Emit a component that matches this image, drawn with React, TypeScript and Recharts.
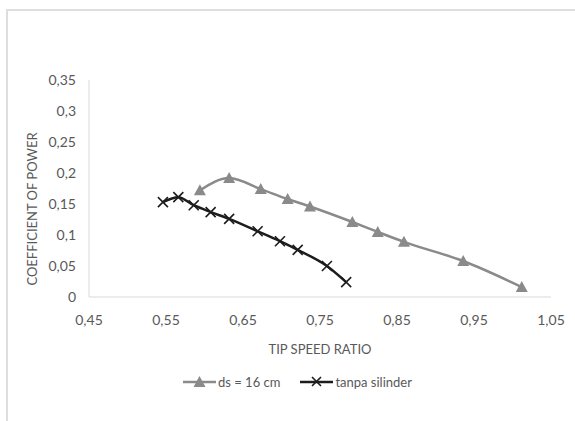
import React from 'react';
import { LineChart, Line, XAxis, YAxis } from 'recharts';

// tip speed ratio vs coefficient of power
const dsTsr = [0.594, 0.632, 0.673, 0.708, 0.737, 0.792, 0.825, 0.859, 0.936, 1.012];
const dsCp = [0.172, 0.192, 0.174, 0.158, 0.146, 0.121, 0.105, 0.089, 0.058, 0.016];
const tanpaTsr = [0.546, 0.566, 0.586, 0.608, 0.632, 0.669, 0.698, 0.721, 0.759, 0.784];
const tanpaCp = [0.153, 0.161, 0.148, 0.137, 0.126, 0.106, 0.09, 0.076, 0.05, 0.024];

const xTicks = [0.45, 0.55, 0.65, 0.75, 0.85, 0.95, 1.05];
const yTicks = [0, 0.05, 0.1, 0.15, 0.2, 0.25, 0.3, 0.35];

const FONT = 'Lato, "Noto Sans", sans-serif';
const GRAY = '#8a8a8a';
const BLACK = '#1c1c1c';

const dsData = dsTsr.map((x, i) => ({ x, y: dsCp[i] }));
const tanpaData = tanpaTsr.map((x, i) => ({ x, y: tanpaCp[i] }));

const fmt = (v: number) => String(Number(v.toFixed(2))).replace('.', ',');

const Triangle = (props: any) => {
  const { cx, cy, index } = props;
  if (cx == null || cy == null) return <g key={`t-${index}`} />;
  return <polygon key={`t-${index}`} points={`${cx},${cy - 6} ${cx - 6},${cy + 5} ${cx + 6},${cy + 5}`} fill={GRAY} />;
};

const Cross = (props: any) => {
  const { cx, cy, index } = props;
  if (cx == null || cy == null) return <g key={`c-${index}`} />;
  const s = 5;
  return (
    <path key={`c-${index}`} d={`M${cx - s},${cy - s}L${cx + s},${cy + s}M${cx - s},${cy + s}L${cx + s},${cy - s}`} stroke={BLACK} strokeWidth={1.6} />
  );
};

const App: React.FC = () => {
  return (
    <div style={{ position: 'fixed', left: 0, top: 0, width: 575, height: 421, background: '#fff', overflow: 'hidden', fontFamily: FONT }}>
      <div style={{ position: 'absolute', left: 6, top: 9, width: 640, height: 500, border: '2px solid #dedede' }} />
      <div style={{ position: 'absolute', left: 0, top: 0 }}>
        <LineChart width={575} height={421} margin={{ top: 80, right: 24, bottom: 94, left: 0 }}>
          <XAxis
            type="number"
            dataKey="x"
            domain={[0.45, 1.05]}
            ticks={xTicks}
            tickFormatter={fmt}
            allowDataOverflow
            height={30}
            stroke="#d9d9d9"
            tickLine={false}
            tickSize={0}
            tickMargin={18}
            tick={{ fill: '#595959', fontSize: 14, fontFamily: FONT }}
          />
          <YAxis
            type="number"
            dataKey="y"
            domain={[0, 0.35]}
            ticks={yTicks}
            tickFormatter={fmt}
            width={89}
            stroke="#d9d9d9"
            tickLine={false}
            tickSize={0}
            tickMargin={13}
            tick={{ fill: '#595959', fontSize: 14, fontFamily: FONT }}
          />
          <Line data={dsData} dataKey="y" type="monotone" stroke={GRAY} strokeWidth={2.5} dot={Triangle} activeDot={false} isAnimationActive={false} />
          <Line data={tanpaData} dataKey="y" type="monotone" stroke={BLACK} strokeWidth={2.5} dot={Cross} activeDot={false} isAnimationActive={false} />
        </LineChart>
      </div>
      <div style={{ position: 'absolute', left: 32, top: 209, transform: 'translate(-50%, -50%) rotate(-90deg)', whiteSpace: 'nowrap', fontSize: 13, color: '#595959' }}>
        COEFFICIENT OF POWER
      </div>
      <div style={{ position: 'absolute', left: 320, top: 349, transform: 'translate(-50%, -50%)', whiteSpace: 'nowrap', fontSize: 13, color: '#595959' }}>
        TIP SPEED RATIO
      </div>
      <div style={{ position: 'absolute', left: 183, top: 372, display: 'flex', alignItems: 'center', fontSize: 13, color: '#595959', whiteSpace: 'nowrap' }}>
        <svg width={33} height={20}>
          <line x1={0} y1={10} x2={33} y2={10} stroke={GRAY} strokeWidth={2.5} />
          <polygon points="16.5,4 10.5,15 22.5,15" fill={GRAY} />
        </svg>
        <span style={{ marginLeft: 2 }}>ds = 16 cm</span>
        <svg width={33} height={20} style={{ marginLeft: 20 }}>
          <line x1={0} y1={10} x2={33} y2={10} stroke={BLACK} strokeWidth={2.5} />
          <path d="M12,5L21,14M12,14L21,5" stroke={BLACK} strokeWidth={1.6} />
        </svg>
        <span style={{ marginLeft: 2 }}>tanpa silinder</span>
      </div>
    </div>
  );
};

export default App;
